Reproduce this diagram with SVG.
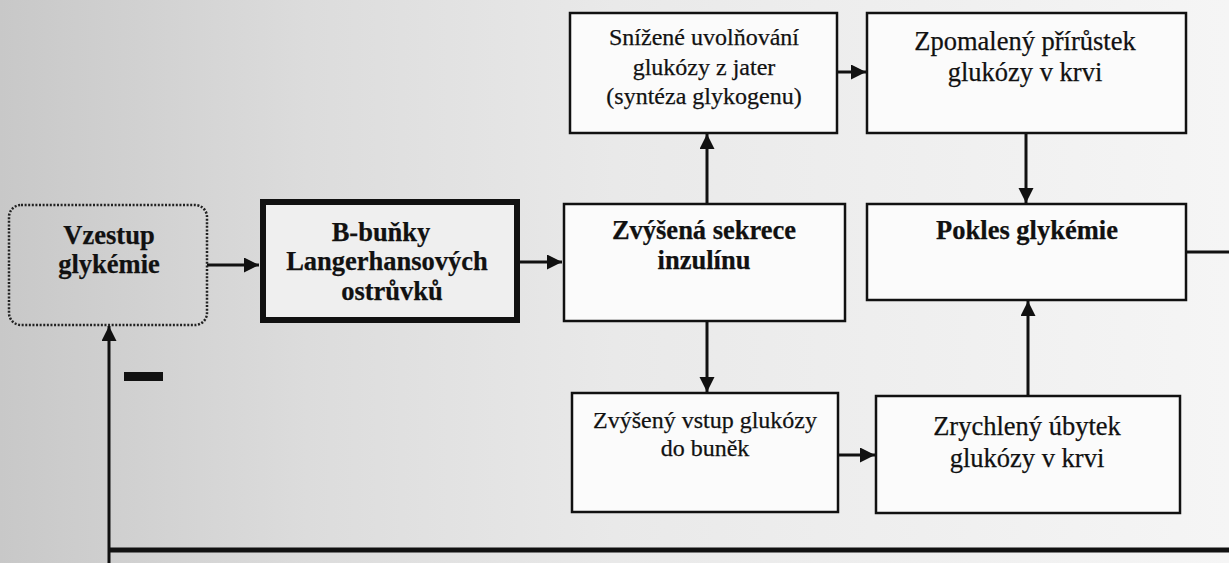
<svg xmlns="http://www.w3.org/2000/svg" width="1229" height="563" viewBox="0 0 1229 563">
  <defs>
    <linearGradient id="paper" x1="0" y1="0" x2="1" y2="0">
      <stop offset="0" stop-color="#c8c8c8"/>
      <stop offset="0.25" stop-color="#dcdcdc"/>
      <stop offset="0.5" stop-color="#e9e9e9"/>
      <stop offset="1" stop-color="#f5f5f5"/>
    </linearGradient>
    <marker id="head" markerUnits="userSpaceOnUse" markerWidth="16" markerHeight="16" refX="15" refY="7.5" orient="auto">
      <path d="M0,0 L15,7.5 L0,15 z" fill="#111"/>
    </marker>
    <style>
      .box { fill: #fbfbfb; stroke: #111; stroke-width: 2.5; }
      .thick { fill: #efefef; stroke: #111; stroke-width: 6; }
      .dotted { fill: none; stroke: #222; stroke-width: 2.5; stroke-dasharray: 2 1.6; }
      text { font-family: "Liberation Serif", "DejaVu Serif", "Times New Roman", serif; fill: #111; stroke: #111; stroke-width: 0.25; text-anchor: middle; }
      .b { font-weight: bold; font-size: 26.5px; }
      .r { font-size: 24px; }
      .r2 { font-size: 26.5px; }
      .arrow { fill: none; stroke: #111; stroke-width: 3; marker-end: url(#head); }
      .line { fill: none; stroke: #111; stroke-width: 3; }
    </style>
  </defs>

  <!-- paper background -->
  <rect x="0" y="0" width="1229" height="563" fill="url(#paper)"/>

  <!-- connectors -->
  <g id="connectors">
    <path class="arrow" d="M207,265 L259,265"/>
    <path class="arrow" d="M520,262 L562,262"/>
    <path class="arrow" d="M707,203 L707,134"/>
    <path class="arrow" d="M838,72 L866,72"/>
    <path class="arrow" d="M1026,133 L1026,203"/>
    <path class="arrow" d="M707,322 L707,392"/>
    <path class="arrow" d="M839,455 L875,455"/>
    <path class="arrow" d="M1028,395 L1028,301"/>
    <path class="line" d="M1186,252 L1229,252"/>
    <path class="line" d="M1229,550 L109,550" style="stroke-width:5"/>
    <path class="arrow" d="M109,563 L109,326"/>
    <!-- negative feedback sign -->
    <rect x="124" y="372" width="39" height="9" fill="#111"/>
  </g>

  <g id="vzestup">
    <rect class="dotted" x="9" y="205" width="198" height="120" rx="12"/>
    <text class="b" x="109" y="244">Vzestup</text>
    <text class="b" x="109" y="273">glykémie</text>
  </g>

  <g id="b-bunky">
    <rect class="thick" x="263" y="202" width="254" height="118"/>
    <text class="b" x="381" y="241">B-buňky</text>
    <text class="b" x="387" y="270">Langerhansových</text>
    <text class="b" x="392" y="300">ostrůvků</text>
  </g>

  <g id="sekrece">
    <rect class="box" x="564" y="204" width="281" height="117"/>
    <text class="b" x="704" y="239">Zvýšená sekrece</text>
    <text class="b" x="704" y="269">inzulínu</text>
  </g>

  <g id="jatra">
    <rect class="box" x="570" y="13" width="267" height="120"/>
    <text class="r" x="704" y="45">Snížené uvolňování</text>
    <text class="r" x="704" y="75">glukózy z jater</text>
    <text class="r" x="704" y="104">(syntéza glykogenu)</text>
  </g>

  <g id="zpomaleny">
    <rect class="box" x="867" y="13" width="319" height="120"/>
    <text class="r2" x="1025" y="50">Zpomalený přírůstek</text>
    <text class="r2" x="1025" y="81">glukózy v krvi</text>
  </g>

  <g id="pokles">
    <rect class="box" x="867" y="204" width="319" height="96"/>
    <text class="b" x="1027" y="239">Pokles glykémie</text>
  </g>

  <g id="vstup">
    <rect class="box" x="572" y="393" width="266" height="119"/>
    <text class="r" x="705" y="428">Zvýšený vstup glukózy</text>
    <text class="r" x="705" y="456">do buněk</text>
  </g>

  <g id="ubytek">
    <rect class="box" x="876" y="396" width="304" height="117"/>
    <text class="r2" x="1027" y="435">Zrychlený úbytek</text>
    <text class="r2" x="1027" y="467">glukózy v krvi</text>
  </g>
</svg>
